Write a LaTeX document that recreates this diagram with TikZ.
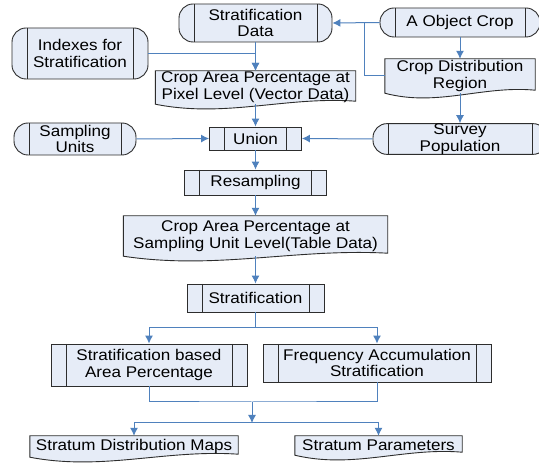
\documentclass[tikz,border=0pt]{standalone}
\usepackage{fontspec}
\setmainfont{Liberation Sans}[FakeStretch=1.1]
\usetikzlibrary{arrows.meta,calc,backgrounds}
\definecolor{boxfill}{RGB}{230,236,247}
\definecolor{boxline}{RGB}{45,45,45}
\definecolor{flow}{RGB}{79,129,189}
\newcommand{\boxfont}{\fontsize{15.5pt}{16.7pt}\selectfont}
% document shape with wavy bottom, drawn round a text node
\newcommand{\docshape}[1]{%
  \filldraw[draw=boxline, fill=boxfill, line width=0.9pt] (#1.south west) -- (#1.north west)
    -- (#1.north east) -- ([yshift=3pt]#1.south east)
    .. controls ($(#1.south east)!0.35!(#1.south west)+(0,8pt)$) and ($(#1.south west)!0.35!(#1.south east)+(0,-14pt)$)
    .. (#1.south west) -- cycle;}

\begin{document}
\begin{tikzpicture}[x=1pt,y=-1pt]
\tikzset{box/.style={draw=boxline, fill=boxfill, line width=0.9pt, inner xsep=2pt, inner ysep=0pt, align=center, font=\boxfont}}
\tikzset{sides/.style={path picture={
    \draw[boxline, line width=0.9pt]
      ([xshift=15pt]path picture bounding box.north west) -- ([xshift=15pt]path picture bounding box.south west)
      ([xshift=-15pt]path picture bounding box.north east) -- ([xshift=-15pt]path picture bounding box.south east);}}}
\tikzset{proc/.style={box, sides}}
\tikzset{store/.style={box, sides, rounded corners=14pt}}
\tikzset{doc/.style={align=center, font=\boxfont, inner sep=0pt}}
\tikzset{flowline/.style={draw=flow, line width=1pt}}
\tikzset{flowarr/.style={flowline, -{Latex[length=8pt,width=8pt]}}}

\useasboundingbox (0,0) rectangle (539,465);

%% inputs
\node[store, minimum width=153pt, minimum height=38pt] at (255.5,23) (sdata) {Stratification\\Data};
\node[store, minimum width=136pt, minimum height=51pt] at (80,53.5) (idx) {Indexes for\\Stratification};
\node[store, minimum width=160pt, minimum height=29pt] at (460,22.5) (obj) {A Object Crop};
\node[doc, minimum width=150pt, minimum height=34pt] at (460,76) (cdr) {Crop Distribution\\Region};
\node[doc, minimum width=200pt, minimum height=33pt] at (255.5,87.5) (cap1) {Crop Area Percentage at\\Pixel Level (Vector Data)};
\node[store, minimum width=122pt, minimum height=32pt] at (75,139) (samp) {Sampling\\Units};
\node[store, minimum width=174pt, minimum height=30pt] at (460,139) (surv) {Survey\\Population};

%% processing chain
\node[proc, minimum width=92pt, minimum height=23pt] at (255.5,138.5) (union) {Union};
\node[proc, minimum width=142pt, minimum height=25pt] at (255.5,182.5) (resamp) {Resampling};
\node[doc, minimum width=264pt, minimum height=40pt] at (255.5,236) (cap2) {Crop Area Percentage at\\Sampling Unit Level(Table Data)};
\node[proc, minimum width=137pt, minimum height=28pt] at (255.5,298) (strat) {Stratification};
\node[proc, minimum width=196pt, minimum height=42pt] at (149,365) (sbap) {Stratification based\\Area Percentage};
\node[proc, minimum width=228pt, minimum height=38pt] at (377,363) (fas) {Frequency Accumulation\\Stratification};

%% outputs
\node[doc, minimum width=208pt, minimum height=21pt] at (134,446.5) (sdm) {Stratum Distribution Maps};
\node[doc, minimum width=167pt, minimum height=19pt] at (378.5,445.5) (spar) {Stratum Parameters};

\begin{scope}[on background layer]
  \fill[white] (0,0) rectangle (539,465);
  \docshape{cdr}
  \docshape{cap1}
  \docshape{cap2}
  \docshape{sdm}
  \docshape{spar}
\end{scope}

\coordinate (jn) at (364,22.5);
\coordinate (sp1) at (255.5,328);
\coordinate (mg) at (252,402);
\coordinate (sp2) at (252,423);

  \draw[flowarr] (obj.west) -- (sdata.east);
  \draw[flowline] (cdr.west) -| (jn);
  \draw[flowarr] (sdata.south) -- (cap1.north);
  \draw[flowarr] (idx.east) -| (cap1.north);
  \draw[flowarr] (obj.south) -- (cdr.north);
  \draw[flowarr] (cdr.south) -- (surv.north);
  \draw[flowarr] (cap1.south) -- (union.north);
  \draw[flowarr] (samp.east) -- (union.west);
  \draw[flowarr] (surv.west) -- (union.east);
  \draw[flowarr] (union) -- (resamp);
  \draw[flowarr] (resamp) -- (cap2.north);
  \draw[flowarr] (cap2.south) -- (strat);
  \draw[flowline] (strat.south) -- (sp1);
  \draw[flowarr] (sp1) -| (sbap.north);
  \draw[flowarr] (sp1) -| (fas.north);
  \draw[flowline] (sbap.south) |- (mg) -| (fas.south);
  \draw[flowarr] (mg) -- (sp2);
  \draw[flowarr] (sp2) -| (sdm.north);
  \draw[flowarr] (sp2) -| (spar.north);

\end{tikzpicture}
\end{document}
